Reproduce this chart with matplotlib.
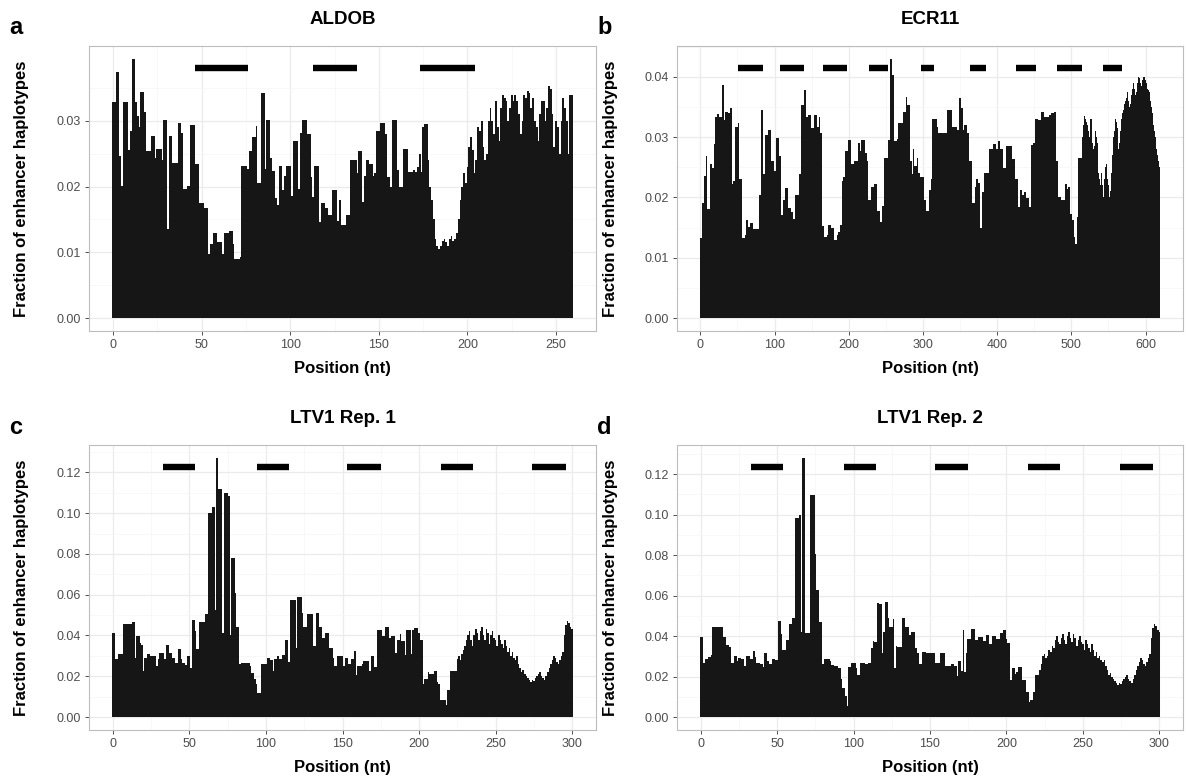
import numpy as np
import matplotlib
matplotlib.use('Agg')
import matplotlib.pyplot as plt
from matplotlib.ticker import FixedLocator, FormatStrFormatter

plt.rcParams['font.family'] = ['Liberation Sans', 'DejaVu Sans']

# heights in units of 1e-4 (fraction of enhancer haplotypes), one per position
aldob = [329,329,374,374,246,201,329,329,329,256, 285,394,394,329,308,290,344,344,313,254,
         254,254,277,277,244,258,258,258,241,302, 302,136,277,277,236,236,236,297,297,282,
         196,196,201,201,294,294,294,234,234,175, 175,175,167,167,98,113,113,130,130,116,
         116,116,98,130,130,130,133,133,113,90, 90,90,93,231,231,231,227,254,254,275,
         275,293,206,206,342,342,227,302,302,244, 224,224,183,172,231,231,195,216,231,231,
         231,185,269,269,269,196,281,302,302,302, 280,280,215,184,231,231,231,146,175,175,
         168,168,157,157,195,195,195,148,180,142, 142,142,157,157,241,241,241,241,221,254,
         254,176,216,241,241,235,235,216,220,285, 285,297,297,297,280,215,215,200,302,302,
         302,226,200,200,258,258,258,222,222,222, 225,222,230,250,222,290,295,296,240,200,
         180,150,120,110,105,110,118,120,115,110, 120,125,118,120,130,150,180,200,220,205,
         230,260,275,255,220,240,290,285,300,260, 240,250,300,320,300,280,330,290,270,320,
         340,335,330,300,320,340,330,340,330,310, 280,300,340,335,345,342,320,335,300,290,
         270,310,330,330,300,320,353,348,310,260, 300,290,250,300,335,320,300,250,340,340]

ecr11 = [133,133,133,190,190,190,236,236,268,268, 181,181,181,256,256,256,249,249,249,289,
         333,333,333,338,338,338,333,333,333,386, 386,386,328,328,342,342,342,342,340,340,
         349,349,349,222,222,228,228,316,316,316, 316,324,231,231,231,231,118,133,133,133,
         137,137,163,163,163,151,151,157,157,157, 157,148,148,148,148,148,148,148,148,204,
         204,204,345,345,345,238,238,238,304,304, 304,311,311,311,311,311,260,260,260,260,
         244,244,244,298,298,298,298,268,268,170, 170,170,196,196,196,215,215,215,215,182,
         182,182,175,175,175,164,164,164,204,204, 204,204,204,238,238,238,353,353,353,353,
         378,378,378,333,333,333,336,336,336,336, 315,315,315,337,337,337,337,337,316,316,
         316,333,307,307,277,153,153,134,134,134, 134,137,137,155,155,155,155,150,150,150,
         130,130,130,130,137,137,142,142,142,155, 155,227,227,234,234,234,277,277,277,256,
         295,295,295,295,256,256,256,256,260,260, 260,260,260,290,290,290,277,295,295,295,
         295,295,273,273,273,260,196,196,196,196, 196,218,218,218,222,222,222,222,222,178,
         178,178,159,159,159,185,185,185,265,265, 265,265,265,295,295,295,430,430,430,403,
         403,403,294,294,294,296,296,324,324,324, 324,324,324,341,341,341,341,367,367,353,
         353,353,353,261,261,261,239,280,280,252, 252,252,266,266,241,241,241,234,234,234,
         234,234,196,196,196,177,177,177,212,212, 212,231,231,330,330,330,330,330,330,316,
         316,307,307,307,307,307,307,280,306,306, 306,306,306,345,345,345,345,345,345,316,
         316,316,316,316,316,316,312,312,312,365, 365,365,349,349,312,312,320,320,320,320,
         307,307,260,260,260,260,260,191,191,191, 218,218,231,231,231,224,224,224,150,150,
         209,209,209,240,240,240,240,240,240,240, 281,281,281,281,281,289,289,289,289,281,
         281,281,293,293,281,281,281,281,248,248, 248,248,286,286,286,286,286,286,286,286,
         286,263,263,263,263,231,231,231,184,184, 184,213,213,213,204,204,204,209,209,199,
         199,199,199,199,184,184,287,287,287,290, 290,330,330,330,330,330,329,329,329,329,
         342,342,342,333,333,333,333,333,333,333, 337,337,337,340,340,340,340,342,342,342,
         260,260,200,200,200,200,196,196,196,196, 196,196,223,223,223,214,218,218,218,173,
         173,173,162,162,134,134,123,123,167,167, 266,266,266,266,266,300,320,330,335,330,
         325,330,320,310,300,305,330,330,310,290, 280,285,300,310,300,290,260,240,230,220,
         225,240,220,200,210,230,250,255,240,230, 220,200,195,210,240,270,290,300,310,320,
         330,325,315,300,280,290,310,320,330,340, 345,350,355,360,365,370,375,360,350,340,
         355,370,380,385,390,380,370,360,375,390, 395,400,398,390,380,385,395,400,405,400,
         395,390,385,380,378,375,370,360,350,340, 330,320,310,300,290,280,270,260,255,250]

ltv1_rep1 = [413,413,285,285,311,311,311,454,454,454, 454,454,454,464,464,292,398,398,364,351,
             226,292,292,311,311,300,300,300,300,249, 287,315,315,315,287,355,355,315,315,292,
             292,265,265,336,336,287,265,265,254,298, 298,240,478,478,423,336,336,464,464,464,
             464,503,503,999,999,1029,1029,527,1270,1117, 1117,1117,413,1100,1100,1100,1084,401,781,781,
             606,442,442,262,267,267,267,267,267,267, 251,216,216,185,161,118,118,262,262,262,
             262,292,292,278,278,226,287,287,300,287, 287,303,303,380,380,270,572,572,572,572,
             341,590,590,590,508,442,442,503,503,503, 503,349,349,508,508,442,442,390,390,413,
             413,413,341,341,292,249,249,300,300,300, 300,249,292,292,262,262,287,287,324,205,
             251,251,251,262,275,275,275,275,226,300, 300,246,246,429,429,429,398,398,442,442,
             442,390,398,398,398,316,380,380,405,373, 373,303,429,429,429,311,429,439,439,439,
             414,377,377,164,185,185,221,213,213,213, 226,226,172,161,85,85,85,85,57,131,
             131,226,226,226,226,283,300,280,310,330, 350,380,400,420,380,350,400,430,410,380,
             420,440,400,380,430,410,360,400,420,390, 380,350,400,380,360,340,380,350,320,340,
             300,320,290,280,300,260,240,220,230,210, 200,190,180,170,180,175,190,200,210,220,
             200,190,180,200,220,240,260,280,300,290, 270,260,280,300,320,400,450,470,460,440,
             430]

ltv1_rep2 = [393,393,268,289,289,298,298,306,443,443, 443,443,446,446,446,393,393,355,355,344,
             268,268,302,302,278,294,294,286,286,251, 302,302,302,289,289,327,298,268,268,264,
             264,248,314,314,278,264,264,289,289,281, 281,474,474,408,331,331,380,380,458,458,
             488,488,983,983,983,1000,421,1280,1280,417, 417,417,1096,1096,1096,805,628,628,471,471,
             264,289,289,289,289,278,256,256,253,253, 240,240,190,145,145,102,53,248,248,268,
             268,268,240,207,207,269,269,269,264,264, 269,269,339,375,369,369,562,557,557,314,
             418,570,570,488,443,443,483,240,352,347, 347,347,488,488,446,446,446,405,418,418,
             418,339,314,264,264,319,319,319,314,314, 314,314,314,314,268,268,268,314,314,314,
             251,253,253,253,264,264,251,251,202,278, 278,228,430,223,314,385,385,433,433,433,
             383,383,393,393,393,377,377,405,405,359, 359,402,402,402,385,385,417,417,430,430,
             388,367,367,185,240,240,215,223,248,248, 248,185,185,124,124,74,83,83,124,207,
             207,207,230,260,300,310,290,300,330,320, 350,340,380,400,370,360,390,410,380,360,
             400,420,390,370,410,390,350,380,400,370, 360,330,380,360,340,320,360,330,300,320,
             290,300,280,270,280,250,230,210,220,200, 190,180,170,160,170,165,180,190,200,210,
             190,180,170,190,210,230,250,270,290,280, 260,250,270,290,310,390,440,460,450,430,
             420]

# black segments drawn above the bars (start, end in nt)
aldob_seg = [(46.5, 76), (113, 137.5), (173, 204)]
ecr11_seg = [(51, 84), (107, 139), (165, 197), (227.5, 253.5), (297, 315),
             (363, 385), (425, 452), (481, 515), (543, 568)]
ltv1_seg = [(33, 54), (94, 115), (153, 175), (214, 235), (274, 296)]

# axis breaks
aldob_yticks = [0.00, 0.01, 0.02, 0.03]
ecr11_yticks = [0.00, 0.01, 0.02, 0.03, 0.04]
ltv1_yticks = [0.00, 0.02, 0.04, 0.06, 0.08, 0.10, 0.12]
aldob_xticks = [0, 50, 100, 150, 200, 250]
ecr11_xticks = [0, 100, 200, 300, 400, 500, 600]
ltv1_xticks = [0, 50, 100, 150, 200, 250, 300]

W, H = 1186, 780
fig = plt.figure(figsize=(W / 100, H / 100), dpi=100)


def add_panel(l, r, t, b):
    return fig.add_axes([l / W, 1 - b / H, (r - l) / W, (b - t) / H])


panels = [
    ('a', 'ALDOB', aldob, aldob_seg, 0.0380, (-0.00197, 0.0414), (-13.5, 272.5),
     aldob_yticks, aldob_xticks, (89, 596, 46, 331)),
    ('b', 'ECR11', ecr11, ecr11_seg, 0.0415, (-0.00215, 0.0451), (-31.5, 650.5),
     ecr11_yticks, ecr11_xticks, (677, 1183, 46, 331)),
    ('c', 'LTV1 Rep. 1', ltv1_rep1, ltv1_seg, 0.1225, (-0.00635, 0.1334), (-15.5, 315.5),
     ltv1_yticks, ltv1_xticks, (89, 596, 445, 730)),
    ('d', 'LTV1 Rep. 2', ltv1_rep2, ltv1_seg, 0.1235, (-0.0064, 0.1344), (-15.5, 315.5),
     ltv1_yticks, ltv1_xticks, (677, 1183, 445, 730)),
]

for letter, title, vals, segs, sy, ylim, xlim, yt, xt, box in panels:
    l, r, t, b = box
    ax = add_panel(l, r, t, b)
    heights = np.array(vals) / 10000.0
    pos = np.arange(len(heights))
    ax.bar(pos, heights, width=1.0, color='#161616', linewidth=0, zorder=2)
    for s0, s1 in segs:
        ax.plot([s0, s1], [sy, sy], color='black', lw=4.6, solid_capstyle='butt', zorder=3)
    ax.set_xlim(*xlim)
    ax.set_ylim(*ylim)
    ystep = yt[1] - yt[0]
    xstep = xt[1] - xt[0]
    ax.yaxis.set_major_locator(FixedLocator(yt))
    ax.xaxis.set_major_locator(FixedLocator(xt))
    ax.yaxis.set_minor_locator(FixedLocator([y + ystep / 2 for y in yt]))
    ax.xaxis.set_minor_locator(FixedLocator([x + xstep / 2 for x in xt]))
    ax.yaxis.set_major_formatter(FormatStrFormatter('%.2f'))
    ax.xaxis.set_major_formatter(FormatStrFormatter('%d'))
    ax.grid(which='major', color='#EBEBEB', lw=0.9, zorder=0)
    ax.grid(which='minor', color='#F5F5F5', lw=0.5, zorder=0)
    ax.set_axisbelow(True)
    for sp in ax.spines.values():
        sp.set_color('#BDBDBD')
        sp.set_linewidth(0.8)
    ax.tick_params(which='major', length=3, width=0.6, color='#333333',
                   labelsize=9, labelcolor='#4D4D4D', pad=3)
    ax.tick_params(which='minor', length=0)
    ax.set_xlabel('Position (nt)', fontsize=12, fontweight='bold', labelpad=7)
    ax.set_title(title, fontsize=13.5, fontweight='bold', pad=16)
    fig.text((l - 67) / W, 1 - (t + b) / 2 / H, 'Fraction of enhancer haplotypes',
             rotation=90, ha='center', va='center', fontsize=12, fontweight='bold')
    fig.text((l - 80) / W, 1 - (t - 18) / H, letter, ha='left', va='center',
             fontsize=17, fontweight='bold')

fig.savefig('out.png', dpi=100)
